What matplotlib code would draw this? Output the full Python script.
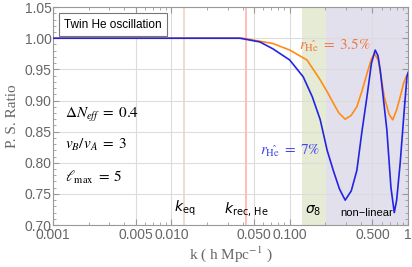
import matplotlib
matplotlib.use("Agg")
import matplotlib.pyplot as plt
from matplotlib.ticker import FixedLocator, MultipleLocator, NullFormatter

# ── data ────────────────────────────────────────────────────────────────
k_blue = [0.001, 0.038, 0.056, 0.072, 0.100, 0.130, 0.155, 0.181, 0.207,
          0.233, 0.263, 0.294, 0.331, 0.369, 0.407, 0.449, 0.490, 0.527,
          0.556, 0.581, 0.661, 0.716, 0.764, 0.800, 0.857, 0.923, 0.977, 1.0]
ratio_blue = [1.0, 1.0, 0.994, 0.983, 0.965, 0.938, 0.906, 0.869, 0.820,
              0.788, 0.758, 0.740, 0.755, 0.788, 0.850, 0.906, 0.960, 0.981,
              0.972, 0.949, 0.853, 0.760, 0.720, 0.740, 0.800, 0.880, 0.938, 0.945]

k_orange = [0.001, 0.040, 0.072, 0.100, 0.140, 0.181, 0.210, 0.233, 0.260,
            0.294, 0.330, 0.369, 0.407, 0.449, 0.490, 0.520, 0.560, 0.600,
            0.630, 0.690, 0.741, 0.800, 0.857, 0.923, 0.977, 1.0]
ratio_orange = [1.0, 1.0, 0.9915, 0.981, 0.965, 0.933, 0.912, 0.896, 0.880,
                0.870, 0.876, 0.890, 0.915, 0.943, 0.967, 0.975, 0.965, 0.930,
                0.905, 0.878, 0.869, 0.885, 0.906, 0.930, 0.941, 0.943]

k_eq = 0.0129
k_rec = 0.043
sigma8_band = (0.126, 0.202)
nonlinear_band = (0.202, 1.0)

xticks = [0.001, 0.005, 0.010, 0.050, 0.100, 0.500, 1.0]
xticklabels = ["0.001", "0.005", "0.010", "0.050", "0.100", "0.500", "1"]

ORANGE = "#FF8C14"
BLUE = "#2424E0"
GRAY = "#666666"

plt.rcParams["font.family"] = ["Liberation Sans", "DejaVu Sans"]

fig = plt.figure(figsize=(4.12, 2.67), dpi=100)
ax = fig.add_axes([0.1286, 0.157, 0.862, 0.8165])

ax.axvspan(*sigma8_band, color="#E5EBD4", lw=0, zorder=0.2)
ax.axvspan(*nonlinear_band, color="#E3E0EE", lw=0, zorder=0.2)
ax.axvline(k_eq, color="#EED8CA", lw=1.3, zorder=1)
ax.axvline(k_rec, color="#FFB9B9", lw=1.3, zorder=1)

ax.plot(k_orange, ratio_orange, color=ORANGE, lw=1.2, zorder=3)
ax.plot(k_blue, ratio_blue, color=BLUE, lw=1.2, zorder=3)

ax.set_xscale("log")
ax.set_xlim(0.001, 1.0)
ax.set_ylim(0.70, 1.05)
ax.xaxis.set_major_locator(FixedLocator(xticks))
ax.set_xticklabels(xticklabels)
ax.xaxis.set_minor_formatter(NullFormatter())
ax.yaxis.set_major_locator(MultipleLocator(0.05))
ax.yaxis.set_minor_locator(MultipleLocator(0.01))
ax.yaxis.set_major_formatter(matplotlib.ticker.FormatStrFormatter("%.2f"))

ax.set_axisbelow(True)
ax.grid(which="major", color="#DCDCDC", lw=0.8)
ax.tick_params(which="both", direction="in", top=True, right=True,
               colors="#999999", labelcolor=GRAY, labelsize=10, pad=2)
ax.tick_params(axis="y", pad=1)
ax.tick_params(which="major", length=4)
ax.tick_params(which="minor", length=2)
for s in ax.spines.values():
    s.set_color("#999999")

ax.set_xlabel(r"k ( h Mpc$^{-1}$ )", family="Liberation Serif", fontsize=11,
              color=GRAY, math_fontfamily="stix", labelpad=2)
ax.set_ylabel("P. S. Ratio", family="Liberation Serif", fontsize=11,
              color=GRAY, labelpad=4)

ax.text(0.032, 0.92, "Twin He oscillation", transform=ax.transAxes,
        fontsize=8.5, va="center", ha="left",
        bbox=dict(boxstyle="square,pad=0.45", fc="white", ec="#777777", lw=0.8))

ax.text(0.00126, 0.872, r"$\Delta N_{eff}\;=\;0.4$", fontsize=11, math_fontfamily="stix")
ax.text(0.00126, 0.823, r"$v_B/v_A\;=\;3$", fontsize=11, math_fontfamily="stix")
ax.text(0.00126, 0.770, r"$\ell_{\rm max}\;=\;5$", fontsize=11, math_fontfamily="stix")

ax.text(0.242, 0.989, r"$r_{\hat{\rm He}}\;=\;3.5\%$", color="#EE7A3C", fontsize=11,
        math_fontfamily="stix", ha="center", va="center")
ax.text(0.10, 0.819, r"$r_{\hat{\rm He}}\;=\;7\%$", color="#4444EE", fontsize=11,
        math_fontfamily="stix", ha="center", va="center")

ax.text(k_eq, 0.711, r"$k_{\rm eq}$", fontsize=10, math_fontfamily="dejavusans",
        ha="center", va="bottom")
ax.text(k_rec, 0.711, r"$k_{\rm rec,\,He}$", fontsize=10, math_fontfamily="dejavusans",
        ha="center", va="bottom")
ax.text(0.159, 0.711, r"$\sigma_8$", fontsize=10, math_fontfamily="dejavusans",
        ha="center", va="bottom")
ax.text(0.45, 0.711, "non\u2212linear", fontsize=8, ha="center", va="bottom")

fig.savefig("out.png", dpi=100)
